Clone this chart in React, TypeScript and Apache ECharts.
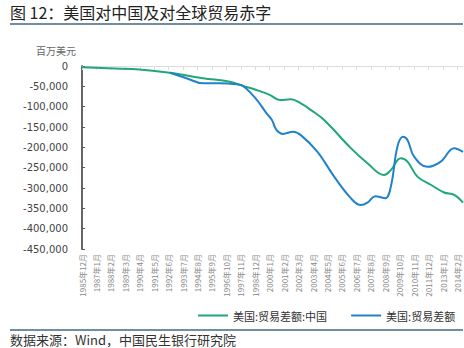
import React, { useEffect, useRef } from "react";
import * as echarts from "echarts";

const TITLE = "图 12：美国对中国及对全球贸易赤字";
const SOURCE = "数据来源：Wind，中国民生银行研究院";
const UNIT = "百万美元";
const SERIES_NAMES = ["美国:贸易差额:中国", "美国:贸易差额"];

// Monthly categories from 1985-12 to 2014-07
const START_YEAR = 1985;
const START_MONTH = 12;
const END_YEAR = 2014;
const END_MONTH = 7;
const categories: string[] = [];
for (let y = START_YEAR, m = START_MONTH; y < END_YEAR || (y === END_YEAR && m <= END_MONTH); ) {
  categories.push(`${y}年${m}月`);
  m++;
  if (m > 12) { m = 1; y++; }
}

const yTicks = { min: -450000, max: 0, interval: 50000 };

const chinaDates = [
  "1985年12月", "1987年6月", "1990年1月", "1992年7月", "1995年1月", "1997年1月",
  "1998年1月", "1999年1月", "2000年1月", "2000年10月", "2001年8月", "2002年5月",
  "2003年2月", "2004年2月", "2006年2月", "2007年5月", "2008年8月", "2009年2月",
  "2009年11月", "2010年5月", "2011年2月", "2012年2月", "2013年2月", "2013年11月", "2014年7月",
];
const chinaValues = [
  -3000, -5000, -8000, -16500, -30000, -38600,
  -49000, -59000, -71000, -83600, -82000, -92000,
  -108000, -133000, -202000, -239000, -268000, -256000,
  -227000, -235000, -272000, -292000, -311000, -317000, -336000,
];

const globalDates = [
  "1992年7月", "1993年10月", "1995年1月", "1996年4月", "1997年7月", "1998年1月",
  "1999年1月", "1999年10月", "2000年3月", "2000年7月", "2001年1月", "2001年10月",
  "2002年5月", "2003年8月", "2004年11月", "2006年2月", "2006年11月", "2007年5月",
  "2007年12月", "2008年9月", "2009年2月", "2009年8月", "2010年1月", "2010年5月",
  "2010年11月", "2011年11月", "2012年11月", "2013年11月", "2014年7月",
];
const globalValues = [
  -16500, -30000, -42500, -42500, -45000, -49000,
  -82000, -116000, -133000, -157000, -167000, -161500,
  -170000, -211000, -272000, -325000, -342000, -336000,
  -320000, -325000, -297000, -198000, -174000, -182000,
  -223000, -248000, -235000, -202000, -211000,
];

const GREEN = "#1fa874";
const BLUE = "#2182cb";

function fmt(v: number) {
  if (v === 0) return "0";
  const s = Math.abs(v).toString().replace(/\B(?=(\d{3})+(?!\d))/g, ",");
  return (v < 0 ? "-" : "") + s;
}

export default function App() {
  const ref = useRef<HTMLDivElement>(null);
  useEffect(() => {
    if (!ref.current) return;
    const chart = echarts.init(ref.current, undefined, { renderer: "svg" });
    const font = "'Noto Sans CJK SC', 'Noto Sans', sans-serif";
    chart.setOption({
      animation: false,
      backgroundColor: "#ffffff",
      textStyle: { fontFamily: font },
      grid: { left: 82, right: 1, top: 66, bottom: 99, containLabel: false },
      legend: {
        data: SERIES_NAMES,
        left: 198,
        top: 310,
        width: 266,
        padding: 0,
        icon: "rect",
        itemWidth: 30,
        itemHeight: 2,
        itemGap: 24,
        textStyle: { fontSize: 11, color: "#333", fontFamily: font },
      },
      xAxis: [
        {
          type: "category",
          data: categories,
          boundaryGap: false,
          position: "bottom",
          axisLine: { show: false },
          axisTick: { show: false },
          axisLabel: {
            interval: 12,
            rotate: 90,
            fontSize: 8,
            color: "#8a8a8a",
            margin: 5,
            fontFamily: font,
          },
          splitLine: { show: false },
        },
        {
          type: "category",
          data: categories,
          boundaryGap: false,
          position: "top",
          axisLine: { show: true, onZero: false, lineStyle: { color: "#dddddd", width: 1 } },
          axisTick: { show: true, inside: true, interval: 12, length: 4, lineStyle: { color: "#dddddd" } },
          axisLabel: { show: false },
          splitLine: { show: false },
        },
      ],
      yAxis: {
        type: "value",
        min: yTicks.min,
        max: yTicks.max,
        interval: yTicks.interval,
        axisLine: { show: true, lineStyle: { color: "#666666", width: 2 } },
        axisTick: { show: true, inside: true, length: 3, lineStyle: { color: "#555555" } },
        axisLabel: {
          formatter: (v: number) => fmt(v),
          fontSize: 10,
          color: "#444",
          margin: 14,
          fontFamily: "'DejaVu Sans', sans-serif",
        },
        splitLine: { show: false },
      },
      series: [
        {
          name: SERIES_NAMES[0],
          type: "line",
          xAxisIndex: 0,
          data: chinaDates.map((d, i) => [d, chinaValues[i]]),
          smooth: 0.4,
          showSymbol: false,
          lineStyle: { color: GREEN, width: 2 },
          itemStyle: { color: GREEN },
          z: 2,
        },
        {
          name: SERIES_NAMES[1],
          type: "line",
          xAxisIndex: 0,
          data: globalDates.map((d, i) => [d, globalValues[i]]),
          smooth: 0.4,
          showSymbol: false,
          lineStyle: { color: BLUE, width: 2 },
          itemStyle: { color: BLUE },
          z: 3,
        },
      ],
      graphic: [
        {
          type: "text",
          left: 10,
          top: 4,
          style: { text: TITLE, fontSize: 16, fill: "#222", fontFamily: font },
        },
        {
          type: "line",
          shape: { x1: 10, y1: 24, x2: 463, y2: 24 },
          style: { stroke: "#6f8ea3", lineWidth: 2 },
        },
        {
          type: "text",
          left: 36,
          top: 45,
          style: { text: UNIT, fontSize: 10, fill: "#666", fontFamily: font },
        },
        {
          type: "line",
          shape: { x1: 10, y1: 330, x2: 463, y2: 330 },
          style: { stroke: "#6f8ea3", lineWidth: 2 },
        },
        {
          type: "text",
          x: 10,
          y: 339,
          style: { text: SOURCE, fontSize: 13, fill: "#333", fontFamily: font, verticalAlign: "middle" },
        },
      ],
    });
    return () => chart.dispose();
  }, []);
  return <div ref={ref} style={{ width: 464, height: 348, position: "absolute", left: 0, top: 0 }} />;
}
